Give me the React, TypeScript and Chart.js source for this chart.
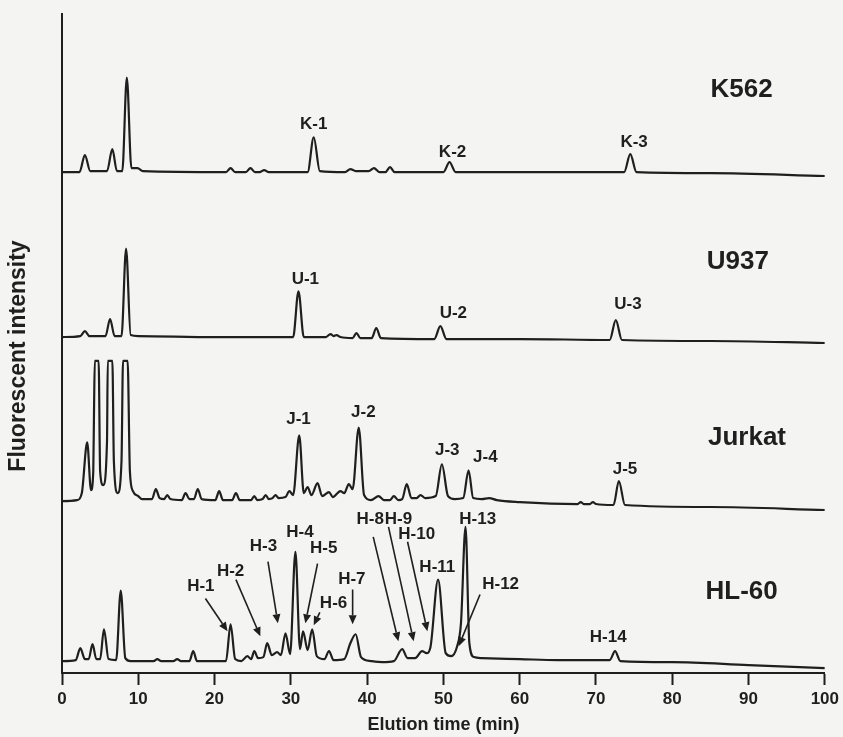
import { useEffect, useRef } from "react";
import { Chart, registerables } from "chart.js";

Chart.register(...registerables);

const INK = "#1f1f1f";
const BG = "#f4f4f2";
const FONT = '"Liberation Sans", Arial, Helvetica, sans-serif';

// x axis (elution time, min)
const xTickStep = 10;
const xMin = 0;
const xMax = 100;
// y axis: arbitrary fluorescence units
const yMin = 0;
const yMax = 663;

const traceNames = ["K562", "U937", "Jurkat", "HL-60"];
// vertical offset of each trace's baseline (stacked chromatograms)
const traceOffsets = [504, 337, 169, 10];

// [time (min), signal above the trace's baseline offset]
const k562Points: [number, number][] = [
  [0, 0], [2.3, 0], [3.0, 17], [3.7, 1], [5.9, 1], [6.6, 23], [7.2, 1], [7.9, 1], [8.5, 95], [9.1, 4],
  [9.9, 4], [10.6, 1], [21.5, 0], [22.1, 4], [22.7, 0], [24.1, 0], [24.7, 4], [25.3, 0], [25.9, 0],
  [26.5, 2], [27.1, 0], [32.2, 0], [33.0, 35], [33.8, 1], [37.1, 0], [37.8, 3], [38.5, 1], [40.2, 1],
  [40.9, 4], [41.6, 0], [42.4, 0], [43.0, 5], [43.6, 0], [50.0, 0], [50.8, 10], [51.6, 0], [73.7, 0],
  [74.5, 18], [75.3, 0], [85, -1], [100, -4],
];

const u937Points: [number, number][] = [
  [0, 1], [2.4, 2], [3.0, 7], [3.6, 2], [5.7, 2], [6.3, 19], [6.9, 2], [7.8, 2], [8.4, 90], [9.0, 3],
  [10, 2], [20, 1], [30.3, 1], [31.0, 47], [31.7, 1], [34.6, 1], [35.2, 4], [35.6, 2], [36.0, 3],
  [36.5, 1], [38.1, 0], [38.6, 5], [39.1, 0], [40.6, 0], [41.2, 10], [41.8, 0], [48.8, -1], [49.6, 12],
  [50.4, -1], [60, -1], [71.8, -2], [72.6, 18], [73.4, -2], [85, -3], [100, -5],
];

const jurkatPoints: [number, number][] = [
  [0, 4], [2.0, 5], [2.6, 12], [3.3, 63], [3.8, 15], [4.1, 34], [4.2, 96], [4.3, 145], [4.8, 145],
  [5.0, 34], [5.4, 20], [5.9, 64], [6.0, 145], [6.6, 145], [6.8, 44], [7.3, 12], [7.8, 44], [8.0, 145],
  [8.6, 145], [8.9, 34], [9.3, 14], [10.0, 9], [10.5, 6], [11.8, 6], [12.3, 16], [12.8, 7], [13.4, 6],
  [13.8, 10], [14.2, 6], [15.7, 5], [16.2, 12], [16.7, 6], [17.3, 6], [17.8, 16], [18.3, 6], [20.1, 5],
  [20.6, 14], [21.1, 5], [22.3, 5], [22.8, 12], [23.3, 5], [24.8, 5], [25.2, 9], [25.6, 5], [26.3, 6],
  [26.7, 10], [27.1, 6], [27.6, 7], [28.0, 10], [28.4, 7], [29.3, 8], [29.8, 14], [30.3, 10], [31.1, 70],
  [31.7, 12], [32.2, 18], [32.7, 10], [33.5, 22], [34.1, 9], [35.0, 13], [35.5, 8], [36.5, 14], [37.0, 12],
  [37.6, 21], [38.1, 16], [38.9, 78], [39.6, 10], [40.5, 5], [41.5, 9], [42.2, 5], [43.0, 5], [43.5, 9],
  [44.1, 5], [44.6, 6], [45.2, 21], [45.8, 7], [46.5, 7], [47.0, 10], [47.6, 7], [49.0, 9], [49.8, 41],
  [50.6, 9], [51.5, 6], [52.6, 7], [53.3, 35], [53.9, 7], [55, 6], [56, 7], [57, 5], [60, 3], [67.6, 1],
  [68, 3], [68.4, 1], [69.2, 1], [69.6, 3], [70, 1], [72.3, 0], [73.0, 24], [73.8, 0], [85, -2], [100, -5],
];

const hl60Points: [number, number][] = [
  [0, 2], [1.8, 3], [2.4, 15], [3.0, 4], [3.5, 4], [4.0, 19], [4.5, 4], [5.0, 4], [5.5, 34], [6.1, 4],
  [7.1, 3], [7.7, 73], [8.3, 5], [9.0, 2], [12.0, 2], [12.5, 4], [13.0, 2], [14.6, 2], [15.1, 4], [15.6, 2],
  [16.7, 2], [17.2, 12], [17.7, 2], [21.5, 2], [22.1, 39], [22.7, 4], [23.5, 2], [24.3, 7], [24.8, 4],
  [25.2, 12], [25.7, 5], [26.4, 6], [26.9, 20], [27.5, 8], [28.2, 11], [28.7, 8], [29.3, 30], [29.9, 9],
  [30.6, 112], [31.2, 14], [31.6, 32], [32.2, 13], [32.8, 34], [33.4, 7], [34.4, 4], [35.0, 12], [35.6, 3],
  [37.0, 4], [37.8, 20], [38.5, 29], [39.2, 6], [40.5, 2], [42.0, 1], [43.5, 2], [44.6, 14], [45.3, 5],
  [46.3, 5], [47.2, 12], [47.8, 10], [48.3, 16], [49.3, 84], [50.3, 10], [51.0, 7], [51.8, 17], [52.3, 40],
  [52.9, 137], [53.4, 20], [54.0, 6], [55, 5], [60, 4], [65, 3], [70, 3], [71.8, 3], [72.5, 12], [73.2, 2],
  [80, 1], [90, -2], [100, -5],
];

const tracePoints = [k562Points, u937Points, jurkatPoints, hl60Points];

// trace name labels: [time, signal]
const traceLabelAt: [number, number][] = [
  [89.1, 587], [88.6, 414], [89.8, 237], [89.1, 82],
];

// peak labels: text, time, signal
const peakLabelText = [
  "K-1", "K-2", "K-3", "U-1", "U-2", "U-3", "J-1", "J-2", "J-3", "J-4", "J-5",
  "H-1", "H-2", "H-3", "H-4", "H-5", "H-6", "H-7", "H-8", "H-9", "H-10", "H-11", "H-12", "H-13", "H-14",
];
const peakLabelAt: [number, number][] = [
  [33.0, 552], [51.2, 524], [75.0, 534],
  [31.9, 396], [51.3, 362], [74.2, 371],
  [31.0, 255], [39.5, 262], [50.5, 224], [55.5, 217], [73.8, 205],
  [18.2, 87], [22.1, 102], [26.4, 127], [31.2, 142], [34.3, 125], [35.6, 70], [38.0, 94],
  [40.4, 155], [44.1, 155], [46.5, 140], [49.2, 106], [57.5, 89], [54.5, 155], [71.6, 36],
];

// arrows: [fromTime, fromSignal, toTime, toSignal]
const arrowSegs: [number, number, number, number][] = [
  [18.8, 75, 21.7, 42],
  [22.8, 94, 26.0, 37],
  [27.0, 112, 28.3, 50],
  [33.5, 110, 31.9, 50],
  [33.8, 61, 33.0, 48],
  [38.1, 84, 38.1, 49],
  [40.8, 137, 44.1, 32],
  [42.8, 147, 46.1, 32],
  [45.3, 132, 47.9, 42],
  [54.8, 79, 52.0, 27],
];

const xTitle = "Elution time (min)";
const yTitle = "Fluorescent intensity";

const annotatePlugin = {
  id: "annotate",
  afterDatasetsDraw(chart: any) {
    const { ctx, scales } = chart;
    const xs = scales.x;
    const ys = scales.y;
    ctx.save();
    ctx.fillStyle = INK;
    ctx.strokeStyle = INK;
    ctx.textAlign = "center";
    ctx.textBaseline = "middle";

    ctx.font = `bold 26px ${FONT}`;
    traceNames.forEach((name, i) => {
      const [t, v] = traceLabelAt[i];
      ctx.fillText(name, xs.getPixelForValue(t), ys.getPixelForValue(v));
    });

    ctx.font = `bold 17px ${FONT}`;
    peakLabelText.forEach((txt, i) => {
      const [t, v] = peakLabelAt[i];
      ctx.fillText(txt, xs.getPixelForValue(t), ys.getPixelForValue(v));
    });

    ctx.lineWidth = 1.6;
    arrowSegs.forEach(([t1, v1, t2, v2]) => {
      const x1 = xs.getPixelForValue(t1);
      const y1 = ys.getPixelForValue(v1);
      const x2 = xs.getPixelForValue(t2);
      const y2 = ys.getPixelForValue(v2);
      const ang = Math.atan2(y2 - y1, x2 - x1);
      const head = 9;
      const half = 4;
      const bx = x2 - head * Math.cos(ang);
      const by = y2 - head * Math.sin(ang);
      ctx.beginPath();
      ctx.moveTo(x1, y1);
      ctx.lineTo(bx, by);
      ctx.stroke();
      ctx.beginPath();
      ctx.moveTo(x2, y2);
      ctx.lineTo(bx + half * Math.sin(ang), by - half * Math.cos(ang));
      ctx.lineTo(bx - half * Math.sin(ang), by + half * Math.cos(ang));
      ctx.closePath();
      ctx.fill();
    });

    // y axis title
    ctx.font = `bold 23px ${FONT}`;
    ctx.translate(19, 356);
    ctx.rotate(-Math.PI / 2);
    ctx.fillText(yTitle, 0, 0);
    ctx.restore();
  },
};

export default function App() {
  const ref = useRef<HTMLCanvasElement>(null);
  useEffect(() => {
    document.body.style.margin = "0";
    document.body.style.background = BG;
    const datasets = tracePoints.map((pts, i) => ({
      label: traceNames[i],
      data: pts.map(([t, v]) => ({ x: t, y: v + traceOffsets[i] })),
      showLine: true,
      borderColor: INK,
      borderWidth: 2.2,
      pointRadius: 0,
      fill: false,
      cubicInterpolationMode: "monotone" as const,
    }));
    const chart = new Chart(ref.current!, {
      type: "scatter",
      data: { datasets },
      plugins: [annotatePlugin],
      options: {
        animation: false,
        responsive: false,
        devicePixelRatio: 1,
        layout: { padding: { left: 62, right: 18, top: 14, bottom: 0 } },
        plugins: { legend: { display: false }, tooltip: { enabled: false } },
        scales: {
          x: {
            type: "linear",
            min: xMin,
            max: xMax,
            ticks: {
              stepSize: xTickStep,
              autoSkip: false,
              maxRotation: 0,
              padding: 4,
              color: INK,
              font: { family: FONT, size: 17, weight: "bold" },
            },
            grid: {
              display: true,
              drawOnChartArea: false,
              drawTicks: true,
              tickLength: 12,
              tickWidth: 2,
              tickColor: INK,
            },
            border: { display: true, color: INK, width: 2 },
            title: {
              display: true,
              text: xTitle,
              color: INK,
              font: { family: FONT, size: 18, weight: "bold" },
              padding: { top: 1, bottom: 1 },
            },
          },
          y: {
            type: "linear",
            min: yMin,
            max: yMax,
            ticks: { display: false },
            grid: { display: false, drawTicks: false, tickLength: 0 },
            border: { display: true, color: INK, width: 2 },
          },
        },
      },
    });
    return () => chart.destroy();
  }, []);
  return (
    <div style={{ width: 843, height: 737, background: BG }}>
      <canvas ref={ref} width={843} height={737} style={{ display: "block" }} />
    </div>
  );
}
